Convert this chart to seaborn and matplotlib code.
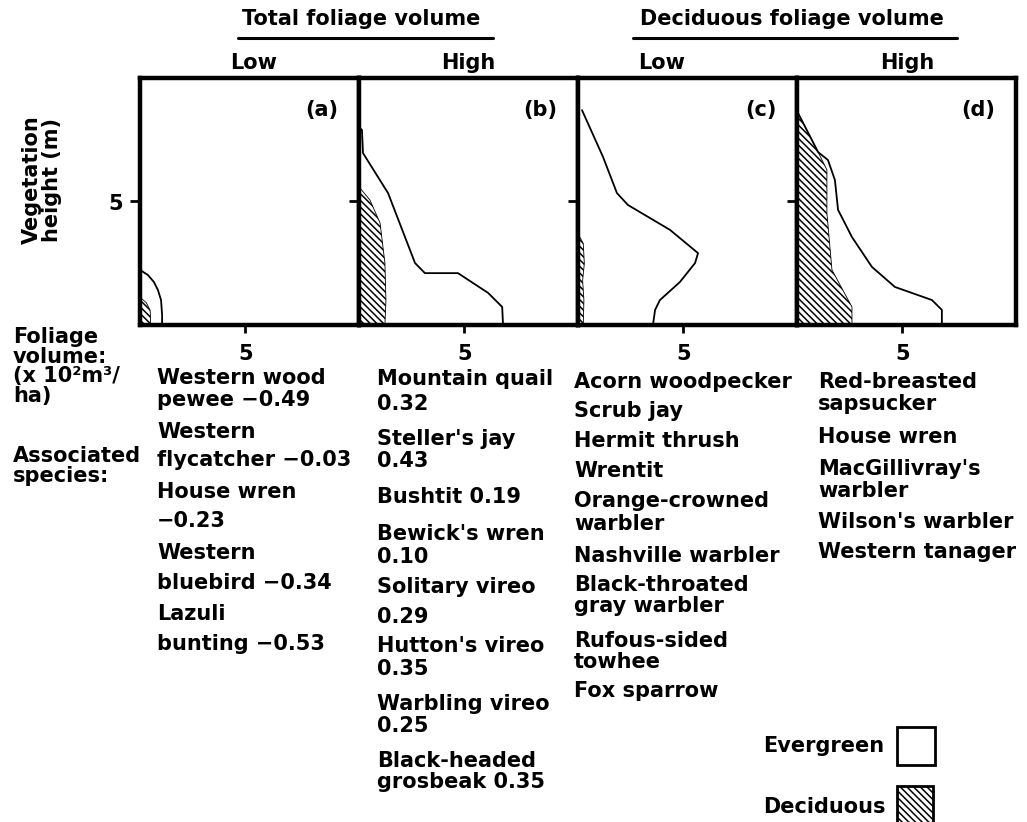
import numpy as np
import pandas as pd
import matplotlib
matplotlib.use('Agg')  # Non-interactive backend
import matplotlib.pyplot as plt
import seaborn as sns
from matplotlib.lines import Line2D
from matplotlib.patches import Rectangle

# Foliage profiles: x = foliage volume (x 10^2 m3/ha), h = vegetation height (m)
a_total_x = [0.0, 0.38, 0.66, 0.85, 1.0, 1.05, 1.05]
a_total_h = [2.23, 2.02, 1.74, 1.42, 1.01, 0.4, 0.0]
a_decid_x = [0.0, 0.3, 0.48, 0.5, 0.5]
a_decid_h = [1.13, 0.9, 0.6, 0.3, 0.0]

b_total_x = [0.0, 0.14, 0.19, 1.38, 2.66, 3.13, 4.7, 6.13, 6.8, 6.84]
b_total_h = [8.0, 7.9, 6.96, 5.34, 2.51, 2.1, 2.1, 1.3, 0.73, 0.0]
b_decid_x = [0.0, 0.52, 1.0, 1.23, 1.28, 1.23]
b_decid_h = [5.59, 5.06, 4.13, 2.51, 1.0, 0.0]

c_total_x = [0.19, 1.19, 1.85, 2.37, 4.37, 5.7, 5.56, 4.84, 3.89, 3.66, 3.56]
c_total_h = [8.7, 6.8, 5.34, 4.86, 3.85, 2.91, 2.51, 1.74, 1.01, 0.61, 0.0]
c_decid_x = [0.0, 0.25, 0.3, 0.22, 0.28, 0.25]
c_decid_h = [3.7, 3.3, 2.5, 1.8, 1.0, 0.0]

d_total_x = [0.05, 1.0, 1.47, 1.8, 1.95, 2.61, 3.56, 4.65, 6.41, 6.88, 6.88]
d_total_h = [8.58, 7.0, 6.68, 5.87, 4.66, 3.56, 2.35, 1.54, 1.01, 0.61, 0.0]
d_decid_x = [0.05, 0.95, 1.42, 1.42, 1.66, 2.61, 2.61]
d_decid_h = [8.58, 7.09, 6.28, 4.53, 2.23, 0.73, 0.0]

panel_tags = ['(a)', '(b)', '(c)', '(d)']

# Associated species (correlation with foliage volume where given)
a_species = ["Western wood\npewee", "Western\nflycatcher", "House wren\n",
             "Western\nbluebird", "Lazuli\nbunting"]
a_values = [-0.49, -0.03, -0.23, -0.34, -0.53]
b_species = ["Mountain quail\n", "Steller's jay\n", "Bushtit", "Bewick's wren\n",
             "Solitary vireo\n", "Hutton's vireo\n", "Warbling vireo\n",
             "Black-headed\ngrosbeak"]
b_values = [0.32, 0.43, 0.19, 0.10, 0.29, 0.35, 0.25, 0.35]
c_species = ["Acorn woodpecker", "Scrub jay", "Hermit thrush", "Wrentit",
             "Orange-crowned\nwarbler", "Nashville warbler",
             "Black-throated\ngray warbler", "Rufous-sided\ntowhee", "Fox sparrow"]
d_species = ["Red-breasted\nsapsucker", "House wren", "MacGillivray's\nwarbler",
             "Wilson's warbler", "Western tanager"]


def with_value(name, val):
    txt = f"{val:.2f}".replace('-', '\u2212')
    sep = "" if name.endswith("\n") else " "
    return name + sep + txt


a_lines = "\n".join(with_value(n, v) for n, v in zip(a_species, a_values)).split("\n")
b_lines = "\n".join(with_value(n, v) for n, v in zip(b_species, b_values)).split("\n")
c_lines = "\n".join(c_species).split("\n")
d_lines = "\n".join(d_species).split("\n")

# Set styling
sns.set_theme(style="white")
plt.rcParams['font.family'] = ['DejaVu Sans']
plt.rcParams['font.weight'] = 'bold'
plt.rcParams['hatch.linewidth'] = 1.1
plt.rcParams['text.color'] = 'black'

W, H = 1027, 822
fig = plt.figure(figsize=(W / 100, H / 100), dpi=100)
fig.patch.set_facecolor('white')


def fx(p):
    return p / W


def fy(p):
    return 1 - p / H


FS = 15
HATCH = '\\\\\\\\\\'

profiles = [
    (a_total_x, a_total_h, a_decid_x, a_decid_h),
    (b_total_x, b_total_h, b_decid_x, b_decid_h),
    (c_total_x, c_total_h, c_decid_x, c_decid_h),
    (d_total_x, d_total_h, d_decid_x, d_decid_h),
]
lefts = [140, 359, 578, 797]

for i, (tx, th, dx, dh) in enumerate(profiles):
    ax = fig.add_axes([fx(lefts[i]), fy(325), 219 / W, 247 / H])
    ax.set_facecolor('white')
    ax.fill_betweenx(dh, 0, dx, facecolor='white', edgecolor='black',
                     hatch=HATCH, linewidth=0.6)
    prof = pd.DataFrame({'vol': tx, 'height': th})
    sns.lineplot(data=prof, x='vol', y='height', orient='y', sort=False,
                 estimator=None, color='black', lw=1.3, ax=ax)
    ax.set_xlim(0, 10.4)
    ax.set_ylim(0, 10)
    ax.set_xticks([5])
    ax.set_yticks([5])
    ax.set_xlabel('')
    ax.set_ylabel('')
    ax.tick_params(axis='x', bottom=True, direction='out', length=6, width=2,
                   pad=8, labelsize=FS, colors='black')
    ax.tick_params(axis='y', left=True, direction='out', length=7, width=2,
                   pad=5, labelsize=FS, colors='black', labelleft=(i == 0))
    for lab in ax.get_xticklabels() + ax.get_yticklabels():
        lab.set_fontweight('bold')
    for sp in ax.spines.values():
        sp.set_linewidth(3.2)
        sp.set_color('black')
    ax.text(0.905, 0.87, panel_tags[i], transform=ax.transAxes, ha='right',
            va='center', fontsize=FS, fontweight='bold')

# Column headers
fig.text(fx(361), fy(25), 'Total foliage volume', ha='center', va='baseline',
         fontsize=FS, fontweight='bold')
fig.text(fx(792), fy(25), 'Deciduous foliage volume', ha='center', va='baseline',
         fontsize=FS, fontweight='bold')
fig.add_artist(Line2D([fx(238), fx(493)], [fy(38), fy(38)],
                      transform=fig.transFigure, color='black', lw=2.2))
fig.add_artist(Line2D([fx(633), fx(957)], [fy(38), fy(38)],
                      transform=fig.transFigure, color='black', lw=2.2))
for xc, lab in zip([254, 468, 662, 907], ['Low', 'High', 'Low', 'High']):
    fig.text(fx(xc), fy(69), lab, ha='center', va='baseline',
             fontsize=FS, fontweight='bold')

# Left-hand labels
fig.text(fx(42), fy(180), 'Vegetation\nheight (m)', rotation=90, ha='center',
         va='center', multialignment='center', linespacing=1.05,
         fontsize=FS, fontweight='bold')
left_rows = [('Foliage', 343), ('volume:', 363), ('(x 10\u00b2m\u00b3/', 382),
             ('ha)', 402), ('Associated', 462), ('species:', 482)]
for txt, yb in left_rows:
    fig.text(fx(13), fy(yb), txt, ha='left', va='baseline',
             fontsize=FS, fontweight='bold')

# Species columns
col_x = [157, 377, 574, 818]
col_y = [
    [384, 406, 438, 466, 498, 527, 559, 589, 620, 650],
    [385, 410, 445, 467, 503, 540, 563, 593, 623, 652, 675, 710, 732, 767, 788],
    [388, 417, 447, 477, 507, 530, 562, 591, 612, 647, 668, 697],
    [388, 410, 443, 475, 497, 528, 558],
]
for x0, ys, lines in zip(col_x, col_y, [a_lines, b_lines, c_lines, d_lines]):
    for yb, txt in zip(ys, lines):
        fig.text(fx(x0), fy(yb), txt, ha='left', va='baseline',
                 fontsize=FS, fontweight='bold')

# Legend
fig.text(fx(763), fy(752), 'Evergreen', ha='left', va='baseline',
         fontsize=FS, fontweight='bold')
fig.text(fx(763), fy(813), 'Deciduous', ha='left', va='baseline',
         fontsize=FS, fontweight='bold')
fig.add_artist(Rectangle((fx(897), fy(765)), 38 / W, 38 / H,
                         transform=fig.transFigure, facecolor='white',
                         edgecolor='black', lw=2))
fig.add_artist(Rectangle((fx(897), fy(830)), 36 / W, 44 / H,
                         transform=fig.transFigure, facecolor='white',
                         edgecolor='black', lw=2, hatch=HATCH))

plt.savefig('out.png', dpi=100, facecolor='white')
plt.close()
